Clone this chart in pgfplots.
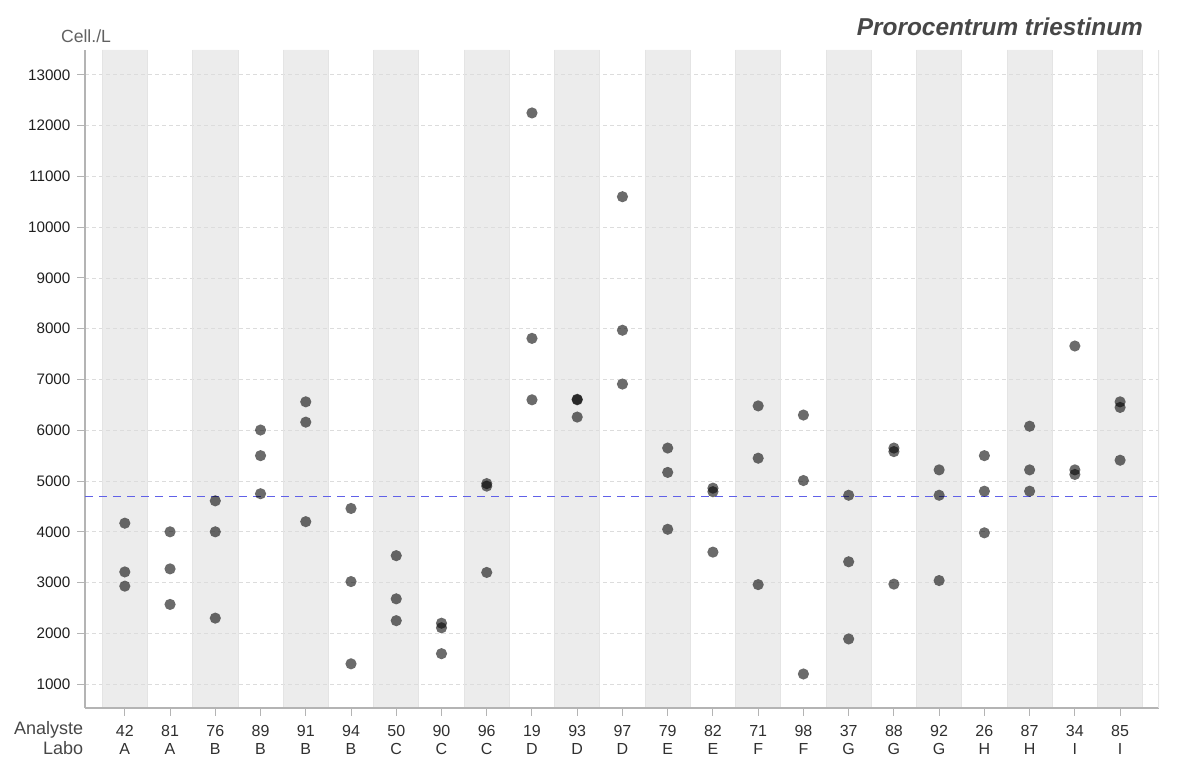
\documentclass[border=0pt]{standalone}
\usepackage{pgfplots}
\pgfplotsset{compat=1.18}
\usepackage{pgfplotstable}
\usepackage{fontspec}
\setmainfont{Liberation Sans}

\definecolor{band}{HTML}{ECECEC}
\definecolor{bandedge}{HTML}{E4E4E4}
\definecolor{gridc}{HTML}{DCDCDC}
\definecolor{axisc}{HTML}{B4B4B4}
\definecolor{meanc}{RGB}{96,96,232}
\definecolor{txt}{HTML}{303030}

% Counts per analyst (index 0..22), three replicates each
\pgfplotstableread{
x y
0 4170
0 3210
0 2930
1 4000
1 3270
1 2570
2 4610
2 4000
2 2300
3 6005
3 5500
3 4750
4 6560
4 6160
4 4200
5 4460
5 3020
5 1400
6 3530
6 2680
6 2250
7 2200
7 2110
7 1600
8 4950
8 4900
8 3200
9 12250
9 7810
9 6600
10 6610
10 6600
10 6260
11 10600
11 7970
11 6910
12 5650
12 5170
12 4050
13 4860
13 4790
13 3600
14 6480
14 5450
14 2960
15 6300
15 5010
15 1200
16 4720
16 3410
16 1890
17 5650
17 5580
17 2970
18 5220
18 4720
18 3040
19 5500
19 4800
19 3980
20 6080
20 5220
20 4800
21 7660
21 5220
21 5130
22 6560
22 6450
22 5410
}\labdata

% outline of the alternating shaded columns (one polygon)
\pgfplotstableread{
x y
-0.5 530
-0.5 13490
0.5 13490
0.5 530
1.5 530
1.5 13490
2.5 13490
2.5 530
3.5 530
3.5 13490
4.5 13490
4.5 530
5.5 530
5.5 13490
6.5 13490
6.5 530
7.5 530
7.5 13490
8.5 13490
8.5 530
9.5 530
9.5 13490
10.5 13490
10.5 530
11.5 530
11.5 13490
12.5 13490
12.5 530
13.5 530
13.5 13490
14.5 13490
14.5 530
15.5 530
15.5 13490
16.5 13490
16.5 530
17.5 530
17.5 13490
18.5 13490
18.5 530
19.5 530
19.5 13490
20.5 13490
20.5 530
21.5 530
21.5 13490
22.5 13490
22.5 530
}\banddata

\begin{document}
\begin{tikzpicture}
\path (0,0) rectangle (600pt,380pt);
\begin{axis}[
  set layers,
  at={(42.5pt,26pt)}, anchor=south west,
  scale only axis, width=537pt, height=329pt,
  xmin=-0.88, xmax=22.86, ymin=530, ymax=13490,
  axis x line*=bottom, axis y line*=left,
  axis line style={draw=axisc, line width=0.6pt},
  every outer x axis line/.append style={-},
  every outer y axis line/.append style={-},
  tick align=outside, major tick length=3.8pt,
  tick style={draw=axisc, line width=0.5pt},
  ytick={1000,2000,...,13000},
  scaled y ticks=false,
  ymajorgrids, grid style={draw=gridc, dash pattern=on 2pt off 1.5pt, line width=0.4pt},
  xtick={0,...,22},
  xticklabels={{42\\A},{81\\A},{76\\B},{89\\B},{91\\B},{94\\B},{50\\C},{90\\C},{96\\C},{19\\D},{93\\D},{97\\D},{79\\E},{82\\E},{71\\F},{98\\F},{37\\G},{88\\G},{92\\G},{26\\H},{87\\H},{34\\I},{85\\I}},
  xticklabel style={align=center, font=\fontsize{8}{9.3}\selectfont, text=txt, inner sep=0pt, yshift=-4.6pt},
  yticklabel style={font=\fontsize{7.6}{8}\selectfont, text=black!88, inner sep=0pt, xshift=-3.3pt},
  extra x ticks={-0.5,0.5,...,22.5},
  extra x tick labels={},
  extra x tick style={major tick length=0pt, xmajorgrids=true,
    major grid style={draw=bandedge, solid, line width=0.4pt}},
  /pgf/number format/assume math mode=true,
  /pgf/number format/1000 sep={},
]
\addplot[fill=band, draw=none, on layer=axis background] table[x=x, y=y] {\banddata} -- cycle;

% overall mean
\addplot[meanc, line width=0.9pt, dash pattern=on 4pt off 3pt] coordinates {(-0.88,4696) (22.86,4696)};

% replicate counts
\addplot[only marks, mark=*, mark size=2.8pt,
  mark options={solid, fill=black, fill opacity=0.58, draw opacity=0}] table[x=x, y=y] {\labdata};

\draw[bandedge, line width=0.6pt] (rel axis cs:1,0) -- (rel axis cs:1,1);
\node[anchor=west, font=\fontsize{5.4}{6}\selectfont, text=black!55, xshift=6.2pt]
  at (axis cs:22.86,4696) {4696};
\end{axis}

\node[anchor=east, inner sep=0pt, font=\fontsize{9}{9.3}\selectfont, text=black!72] at (41.8pt,15.1pt) {Analyste};
\node[anchor=east, inner sep=0pt, font=\fontsize{9}{9.3}\selectfont, text=black!72] at (41.8pt,5.8pt) {Labo};
\node[font=\fontsize{8.8}{10}\selectfont, text=black!62] at (43pt,362pt) {Cell./L};
\node[anchor=east, font=\fontsize{12.2}{14}\selectfont\bfseries\itshape, text=black!72] at (575pt,366.5pt) {Prorocentrum triestinum};
\end{tikzpicture}
\end{document}
